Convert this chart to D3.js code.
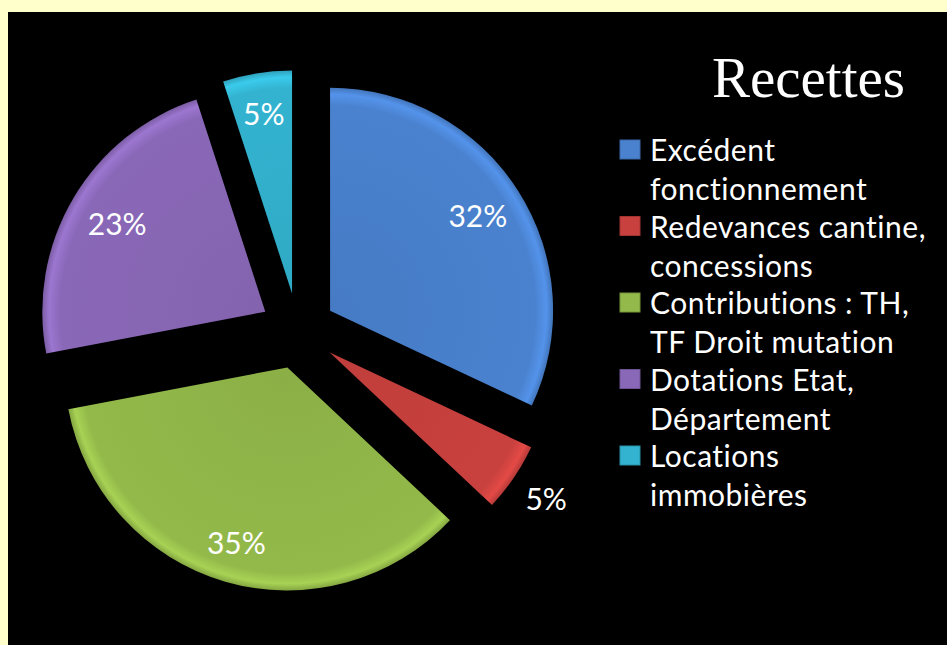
<!DOCTYPE html>
<html>
<head>
<meta charset="utf-8">
<script src="https://cdn.jsdelivr.net/npm/d3@7"></script>
<style>
  html, body { margin: 0; padding: 0; background: #FFFFCC; }
  svg { display: block; }
</style>
</head>
<body>
<svg id="chart" width="947" height="645"></svg>
<script>
const categories = [
    ["Excédent", "fonctionnement"],
    ["Redevances cantine,", "concessions"],
    ["Contributions : TH,", "TF Droit mutation"],
    ["Dotations Etat,", "Département"],
    ["Locations", "immobières"]
];
const values = [32, 5, 35, 23, 5];
const labels = ["32%", "5%", "35%", "23%", "5%"];
const colors = ["#4A82CF", "#C9413E", "#93B94A", "#8A68B8", "#33B3D0"];

const svg = d3.select("#chart"),
    width = +svg.attr("width"),
    height = +svg.attr("height");

// black plot area inside the pale yellow frame
svg.append("rect")
    .attr("x", 8).attr("y", 12)
    .attr("width", width - 8).attr("height", height - 12)
    .attr("fill", "#000");

const cx = 298, cy = 331, radius = 223, explode = 38;

const pie = d3.pie().sort(null).value(d => d);
const arcs = pie(values);
const arc = d3.arc().innerRadius(0).outerRadius(radius);

const defs = svg.append("defs");
colors.forEach((c, i) => {
    const g = defs.append("radialGradient")
        .attr("id", "grad" + i)
        .attr("gradientUnits", "userSpaceOnUse")
        .attr("cx", 0).attr("cy", 0).attr("r", radius);
    g.append("stop").attr("offset", "0%").attr("stop-color", d3.color(c).darker(0.15));
    g.append("stop").attr("offset", "92%").attr("stop-color", c);
    g.append("stop").attr("offset", "97%").attr("stop-color", d3.color(c).brighter(0.35));
    g.append("stop").attr("offset", "100%").attr("stop-color", d3.color(c).darker(0.3));
});

function offset(d) {
    const a = (d.startAngle + d.endAngle) / 2;
    return [Math.sin(a) * explode, -Math.cos(a) * explode];
}

const slices = svg.append("g")
    .attr("transform", `translate(${cx},${cy})`)
    .selectAll("g")
    .data(arcs)
    .join("g")
    .attr("transform", d => `translate(${offset(d)})`);

slices.append("path")
    .attr("d", arc)
    .attr("fill", (d, i) => `url(#grad${i})`);

// percentage labels (the small red slice has its label outside)
const labelRadius = [175, 262, 183, 172, 181];
slices.append("text")
    .attr("transform", (d, i) => {
        const a = (d.startAngle + d.endAngle) / 2;
        return `translate(${Math.sin(a) * labelRadius[i]},${-Math.cos(a) * labelRadius[i]})`;
    })
    .attr("text-anchor", "middle")
    .attr("dy", "0.35em")
    .attr("font-family", "Lato, 'Noto Sans', sans-serif")
    .attr("font-size", 30)
    .attr("fill", "#fff")
    .text((d, i) => labels[i]);

// title
svg.append("text")
    .attr("x", 905).attr("y", 97)
    .attr("text-anchor", "end")
    .attr("font-family", "'Liberation Serif', 'DejaVu Serif', serif")
    .attr("font-size", 57)
    .attr("fill", "#fff")
    .text("Recettes");

// legend
const legend = svg.append("g").attr("transform", "translate(620,140)");
const item = legend.selectAll("g")
    .data(categories)
    .join("g")
    .attr("transform", (d, i) => `translate(0,${i * 76.5})`);

item.append("rect")
    .attr("width", 20).attr("height", 19)
    .attr("fill", (d, i) => colors[i])
    .attr("stroke", (d, i) => d3.color(colors[i]).darker(0.6))
    .attr("stroke-width", 1);

item.selectAll("text")
    .data(d => d)
    .join("text")
    .attr("x", 30)
    .attr("y", (d, j) => 21 + j * 39)
    .attr("font-family", "Lato, 'Noto Sans', sans-serif")
    .attr("font-size", 30)
    .attr("letter-spacing", 0.5)
    .attr("fill", "#fff")
    .text(d => d);
</script>
</body>
</html>
